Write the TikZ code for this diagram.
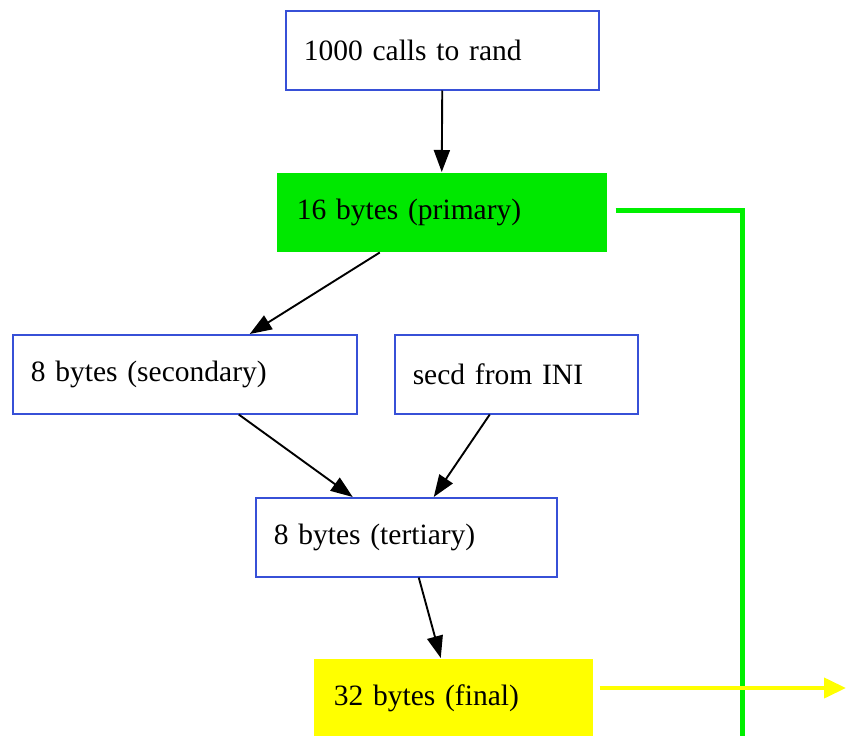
\documentclass[tikz,border=0pt]{standalone}
\usepackage{fontspec}
\setmainfont{Liberation Serif}
\usetikzlibrary{arrows.meta,calc}
\definecolor{boxblue}{RGB}{55,80,215}
\definecolor{primgreen}{RGB}{0,232,0}
\definecolor{linegreen}{RGB}{0,240,0}
\definecolor{finyellow}{RGB}{255,255,0}
\tikzset{
  stage/.style={draw=boxblue, line width=1.5pt, fill=white, anchor=north west,
    inner xsep=18pt, inner ysep=0pt, minimum height=79pt, align=left,
    font=\fontsize{29.5}{36}\selectfont},
  flow/.style={draw=black, line width=1.9pt, -{Triangle[length=22pt,width=16pt]}},
}
\begin{document}
\begin{tikzpicture}[x=1pt,y=-1pt]
  \clip (0,0) rectangle (846,736);
  \fill[white] (0,0) rectangle (846,736);

  % nodes
  \node[stage, text width=277pt] (rand) at (285,10) {1000 calls to rand};
  \node[stage, draw=none, fill=primgreen, inner xsep=20pt, text width=290pt] (prim) at (276,172) {16 bytes (primary)};
  \node[stage, text width=308pt] (sec) at (12,334) {8 bytes (secondary)};
  \node[stage, text width=207pt] (ini) at (394,334) {secd from INI};
  \node[stage, text width=265pt] (ter) at (255,497) {8 bytes (tertiary)};
  \node[stage, draw=none, fill=finyellow, inner xsep=20pt, text width=239pt] (fin) at (313,658) {32 bytes (final)};

  % connectors
  \draw[flow] (rand.south) -- (prim.north);
  \draw[flow] ($(prim.south)+(-62,0)$) -- ($(sec.north)+(65,0)$);
  \draw[flow] ($(sec.south)+(54,0)$) -- ($(ter.north)+(-53.5,0)$);
  \draw[flow] ($(ini.south)+(-26.5,0)$) -- ($(ter.north)+(27.5,0)$);
  \draw[flow] ($(ter.south)+(12.5,0)$) -- ($(fin.north)+(-12.5,0)$);

  % outputs
  \coordinate (gstart) at ($(prim.east)+(8,-1.5)$);
  \coordinate (gdown) at (742,745);
  \coordinate (yout) at (846,688);
  \coordinate (ystart) at ($(fin.east |- yout)+(6,0)$);
  \draw[linegreen, line width=5pt] (gstart) -| (gdown);
  \draw[finyellow, line width=4pt, -{Triangle[length=22pt,width=20pt]}]
    (ystart) -- (yout);
\end{tikzpicture}
\end{document}
